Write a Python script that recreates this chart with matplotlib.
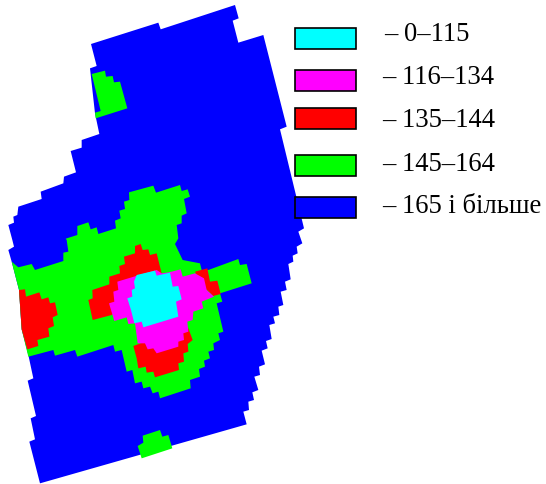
import matplotlib
matplotlib.use("Agg")
import matplotlib.pyplot as plt
from matplotlib.patches import Polygon, Rectangle

W, H = 546, 484
CLASS_COLORS = {"c": "#00ffff", "m": "#ff00ff", "r": "#ff0000", "g": "#00ff00", "b": "#0000ff"}
legend_labels = ["– 0–115", "– 116–134", "– 135–144", "– 145–164", "– 165 і більше"]
legend_keys = ["c", "m", "r", "g", "b"]
legend_boxes = [(295, 28, 61, 21), (295, 70, 61, 21), (295, 108, 61, 21), (295, 155, 61, 21), (295, 197, 61, 21)]
legend_text = [(384, 41), (382, 84), (382, 127), (382, 171), (382, 213)]

# Region outlines, in 3x-scaled map units (upper and lower sheet)
blue_up = [(705,15),(716,55),(698,62),(715,128),(790,105),(860,380),(840,388),(912,685),(895,695)]
blue_low = [(907,10),(890,20),(893,40),(878,47),(880,65),(865,72),(872,118),(855,125),(860,150),(842,155),
            (850,195),(835,200),(838,225),(820,230),(825,250),(808,255),(815,297),(798,303),(803,325),(785,332),
            (795,373),(777,380),(780,405),(763,410),(775,450),(757,457),(762,480),(745,485),(747,510),(730,515),
            (740,553),(120,730),(88,605),(105,598),(92,535),(108,528),(83,422),(100,415),(85,345),(65,268),(57,150),
            (35,65),(25,30),(42,20),(37,0)]
blue_up2 = [(25,675),(42,668),(40,650),(52,645),(55,620),(125,597),(122,575),(190,550),(192,530),(228,517),
            (212,453),(245,443),(245,420),(298,402),(285,340),(270,205),(290,198),(273,132),(475,68),(482,88)]
green_top = [(275,222),(315,212),(318,230),(338,228),(342,247),(360,245),(382,325),(287,355),(285,338),(302,333)]
green_up = [(197,716),(232,705),(232,678),(265,667),(272,688),(290,682),(295,702),(348,685),(345,662),(362,655),
            (358,632),(375,627),(372,605),(388,600),(387,577),(460,557),(468,578),(540,555),(545,573),(563,568),
            (570,590),(552,597),(560,640),(545,647),(545,670),(530,675),(535,715)]
green_low = [(525,12),(548,60),(600,70),(605,90),(625,90),(715,57),(720,75),(740,72),(755,130),(660,160),(667,185),
             (650,190),(670,275),(655,280),(660,300),(640,310),(642,330),(625,335),(630,355),(612,362),(615,380),
             (597,387),(600,410),(570,420),(572,445),(480,475),(475,455),(458,460),(450,440),(430,445),(425,425),
             (405,430),(397,390),(380,395),(365,330),(345,335),(340,315),(232,350),(225,330),(165,347),(160,330),
             (85,350),(65,268),(57,150),(35,65),(55,82),(95,72),(105,90),(190,63),(190,38),(205,35),(200,0)]
green_bottom = [(413,618),(430,608),(428,587),(480,570),(487,590),(505,585),(517,625),(425,655)]
red_left = [(57,150),(75,148),(78,170),(118,157),(125,178),(145,172),(150,190),(165,187),(173,225),(158,232),
            (162,258),(145,265),(148,290),(112,300),(115,318),(82,328),(65,268)]
red_main = [(265,180),(278,175),(277,150),(328,133),(328,110),(360,100),(358,78),(375,72),(372,50),(405,40),(405,18),
            (422,12),(428,30),(445,28),(450,45),(470,40),(485,100),(400,160),(335,225),(278,240)]
red_right = [(585,95),(622,85),(630,125),(652,122),(662,162),(640,168),(600,130)]
red_bottom = [(400,318),(430,307),(500,290),(565,265),(578,300),(563,312),(565,335),(550,340),(552,365),(535,370),
              (537,390),(465,412),(460,395),(440,398),(437,380),(415,385),(410,355)]
magenta = [(327,190),(343,185),(340,155),(355,150),(352,125),(408,108),(470,90),(485,100),(507,97),(542,88),(548,110),
           (585,100),(612,115),(620,150),(642,170),(605,185),(610,205),(580,215),(578,240),(562,245),(565,275),(550,280),
           (552,300),(535,305),(535,320),(470,340),(460,325),(443,328),(435,310),(413,310),(405,250),(385,252),(380,232),(343,243)]
cyan = [(382,175),(397,170),(395,150),(405,145),(402,125),(410,105),(465,92),(470,107),(510,98),(518,140),(535,138),
        (545,178),(528,185),(535,230),(430,262),(425,245),(403,250),(393,210)]


def sheet(points, top):
    return [(x / 3, y / 3 + top) for x, y in points]


LOWER = 240
regions = [
    ("b", sheet(blue_up, 0) + sheet(blue_low, LOWER) + sheet(blue_up2, 0)),
    ("g", sheet(green_top, 0)),
    ("g", sheet(green_up, 0) + sheet(green_low, LOWER)),
    ("g", sheet(green_bottom, LOWER)),
    ("r", sheet(red_left, LOWER)),
    ("r", sheet(red_main, LOWER)),
    ("r", sheet(red_right, LOWER)),
    ("r", sheet(red_bottom, LOWER)),
    ("m", sheet(magenta, LOWER)),
    ("c", sheet(cyan, LOWER)),
]

fig = plt.figure(figsize=(W / 100, H / 100), dpi=100)
ax = fig.add_axes([0, 0, 1, 1])
ax.set_xlim(0, W)
ax.set_ylim(H, 0)
ax.axis("off")

for key, pts in regions:
    ax.add_patch(Polygon(pts, closed=True, facecolor=CLASS_COLORS[key], edgecolor="none"))

for key, box, label, pos in zip(legend_keys, legend_boxes, legend_labels, legend_text):
    x, y, w, h = box
    ax.add_patch(Rectangle((x, y), w, h, facecolor=CLASS_COLORS[key], edgecolor="black", linewidth=1.2))
    ax.text(pos[0], pos[1], label, family="Liberation Serif", fontsize=19.2, color="black", va="baseline", ha="left")

fig.savefig("out.png", dpi=100)
